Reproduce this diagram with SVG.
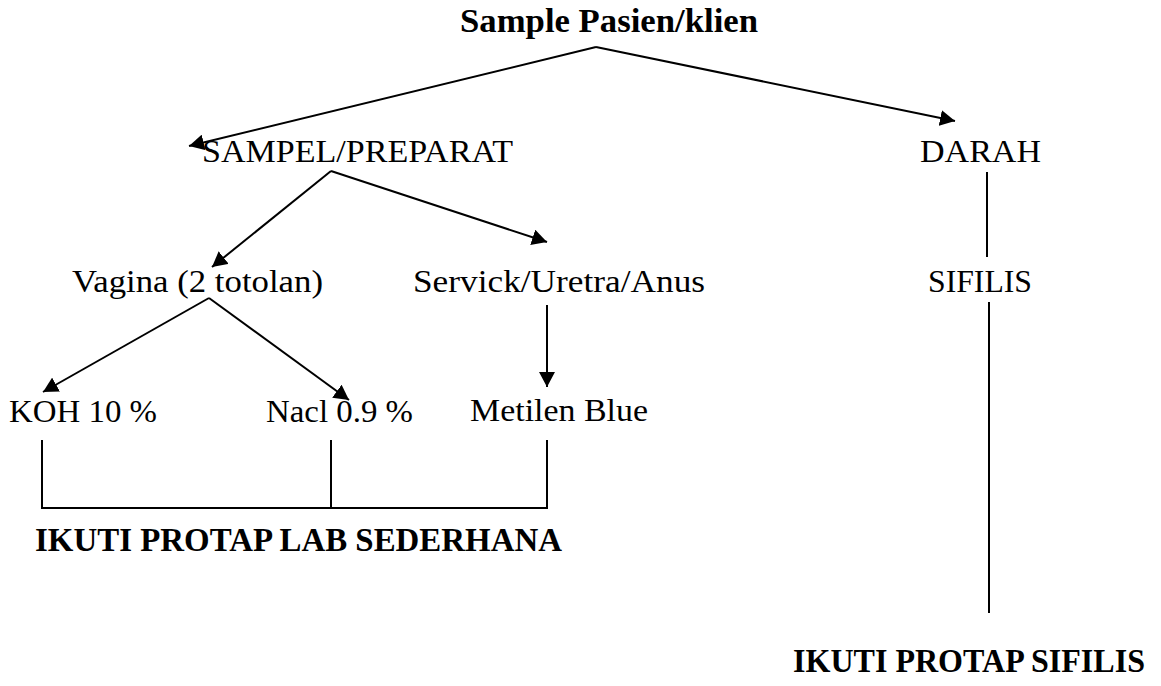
<svg xmlns="http://www.w3.org/2000/svg" width="1161" height="686" viewBox="0 0 1161 686">
  <style>
    .t { font-family: "Liberation Serif", "DejaVu Serif", serif; font-size: 32px; fill: #000; }
    .b { font-family: "Liberation Serif", "DejaVu Serif", serif; font-size: 33px; font-weight: bold; fill: #000; }
    .ln { stroke: #000; stroke-width: 2; fill: none; }
  </style>
  <defs>
    <marker id="arrow" markerUnits="userSpaceOnUse" markerWidth="16" markerHeight="16" refX="15" refY="8" orient="auto">
      <path d="M0,0 L15,8 L0,16 z" fill="#000"/>
    </marker>
  </defs>
  <rect width="1161" height="686" fill="#fff"/>

  <!-- connectors -->
  <g id="connectors" class="ln">
    <path d="M596,47 L189,146" marker-end="url(#arrow)"/>
    <path d="M596,47 L955,121" marker-end="url(#arrow)"/>
    <path d="M331,171 L212,267" marker-end="url(#arrow)"/>
    <path d="M331,171 L547,242" marker-end="url(#arrow)"/>
    <path d="M209,298 L43,392" marker-end="url(#arrow)"/>
    <path d="M209,298 L349,400" marker-end="url(#arrow)"/>
    <path d="M547,305 L547,387" marker-end="url(#arrow)"/>
    <path d="M987,172 L987,257"/>
    <path d="M989,302 L989,613"/>
    <path d="M42,440 L42,508 L547,508 L547,440"/>
    <path d="M331,440 L331,508"/>
  </g>

  <!-- nodes -->
  <g id="node-sample"><text class="b" x="460" y="32" textLength="298" lengthAdjust="spacingAndGlyphs">Sample Pasien/klien</text></g>
  <g id="node-sampel"><text class="t" x="202" y="162" textLength="311" lengthAdjust="spacingAndGlyphs">SAMPEL/PREPARAT</text></g>
  <g id="node-darah"><text class="t" x="920" y="162" textLength="121" lengthAdjust="spacingAndGlyphs">DARAH</text></g>
  <g id="node-vagina"><text class="t" x="72" y="292" textLength="251" lengthAdjust="spacingAndGlyphs">Vagina (2 totolan)</text></g>
  <g id="node-servick"><text class="t" x="413" y="292" textLength="292" lengthAdjust="spacingAndGlyphs">Servick/Uretra/Anus</text></g>
  <g id="node-sifilis"><text class="t" x="928" y="292" textLength="104" lengthAdjust="spacingAndGlyphs">SIFILIS</text></g>
  <g id="node-koh"><text class="t" x="9" y="422" textLength="148" lengthAdjust="spacingAndGlyphs">KOH 10 %</text></g>
  <g id="node-nacl"><text class="t" x="266" y="422" textLength="147" lengthAdjust="spacingAndGlyphs">Nacl 0.9 %</text></g>
  <g id="node-metilen"><text class="t" x="470" y="421" textLength="178" lengthAdjust="spacingAndGlyphs">Metilen Blue</text></g>
  <g id="node-protap-lab"><text class="b" x="35" y="551" textLength="527" lengthAdjust="spacingAndGlyphs">IKUTI PROTAP LAB SEDERHANA</text></g>
  <g id="node-protap-sifilis"><text class="b" x="793" y="672" textLength="352" lengthAdjust="spacingAndGlyphs">IKUTI PROTAP SIFILIS</text></g>
</svg>
